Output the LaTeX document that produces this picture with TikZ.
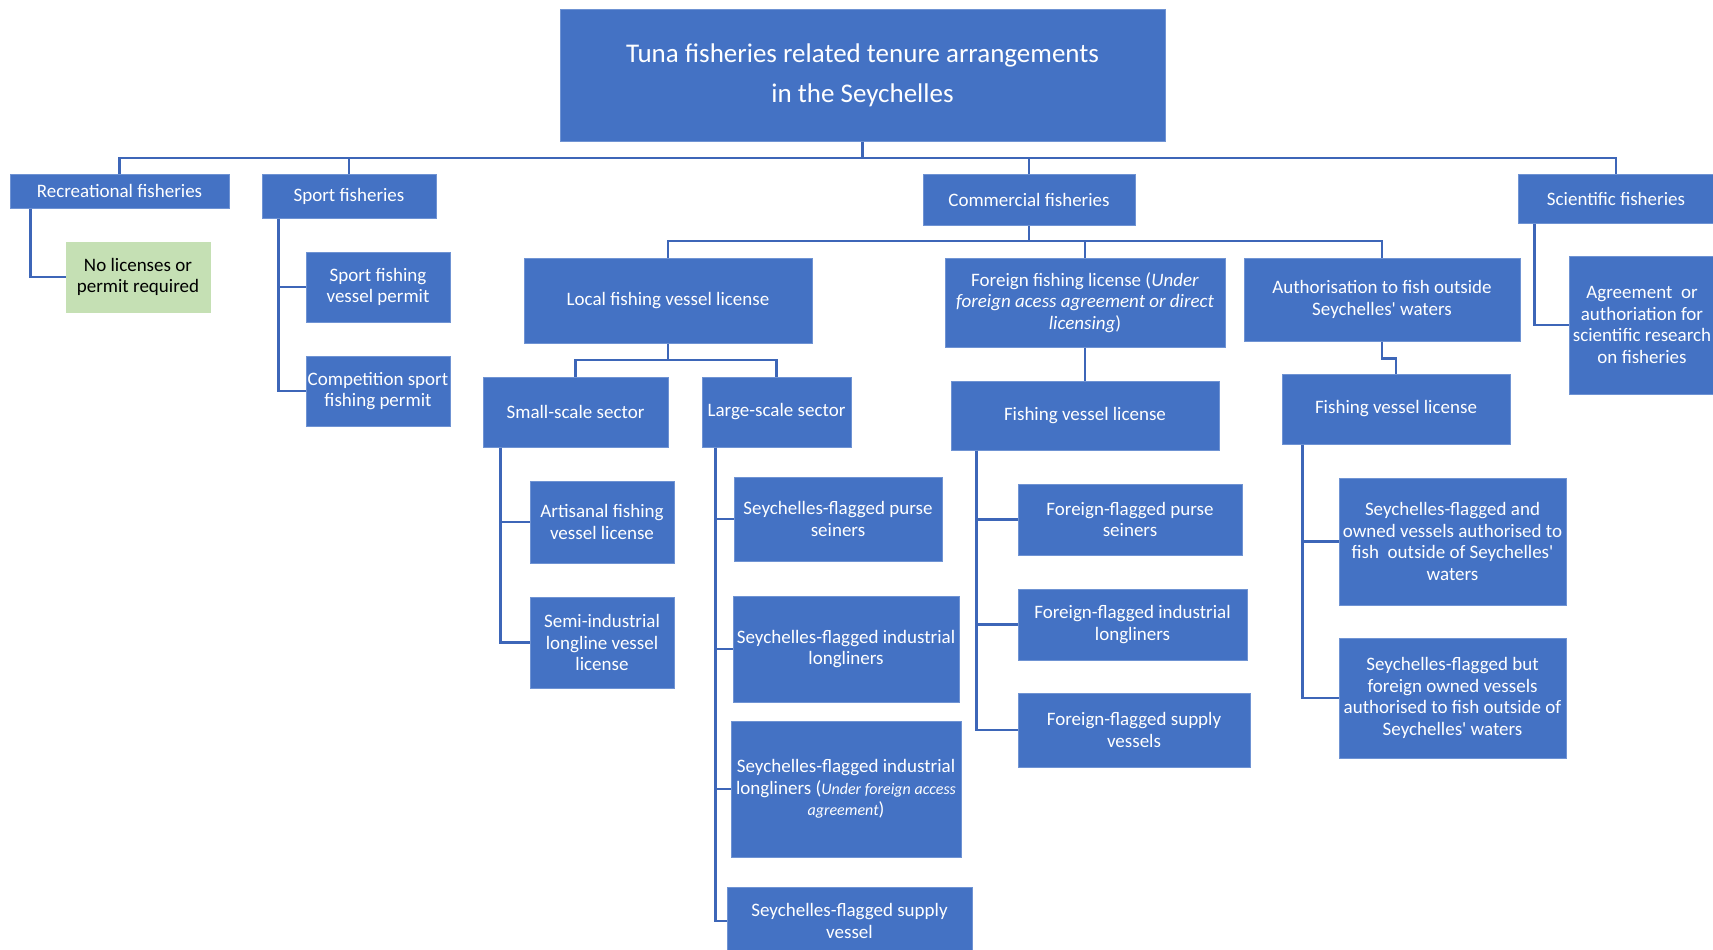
\documentclass[tikz,border=0pt]{standalone}
\usepackage{fontspec}
\setmainfont{Carlito}
\definecolor{boxblue}{HTML}{4472C4}
\definecolor{edgeblue}{HTML}{6F93D3}
\definecolor{linkblue}{HTML}{3D66B8}
\definecolor{nogreen}{HTML}{C5E0B4}
\newcommand{\smallit}[1]{{\fontsize{16}{21.5}\selectfont\itshape #1}}

\begin{document}
\begin{tikzpicture}[x=1pt, y=-1pt,
		box/.style={fill=boxblue, draw=edgeblue, line width=1pt, text=white, align=center, inner xsep=0pt, inner ysep=1pt, font=\fontsize{19}{21.5}\selectfont},
		greenbox/.style={box, fill=nogreen, draw=nogreen, text=black},
		link/.style={draw=linkblue, line width=2.5pt}]
	\useasboundingbox (0,0) rectangle (1713,950);

	% top level
	\node[box, minimum width=605pt, minimum height=131pt, font=\fontsize{27}{40}\selectfont] (title) at (862.5,75.5) {Tuna fisheries related tenure arrangements\\in the Seychelles};
	\node[box, minimum width=219pt, minimum height=34pt] (rec) at (119.5,191) {Recreational fisheries};
	\node[box, minimum width=174pt, minimum height=44pt] (sport) at (349,196) {Sport fisheries};
	\node[box, minimum width=212pt, minimum height=51pt] (comm) at (1029,199.5) {Commercial fisheries};
	\node[box, minimum width=196pt, minimum height=49pt] (sci) at (1616,198.5) {Scientific fisheries};

	% recreational, sport, scientific
	\node[greenbox, minimum width=144pt, minimum height=70pt] (nolic) at (138,277) {No licenses or\\permit required};
	\node[box, minimum width=144pt, minimum height=70pt] (sfvp) at (378,287) {Sport fishing\\vessel permit};
	\node[box, minimum width=144pt, minimum height=70pt] (csfp) at (378,391) {Competition sport\\fishing permit};
	\node[box, minimum width=146pt, minimum height=138pt] (agree) at (1642,325) {Agreement~ or\\authoriation for\\scientific research\\on fisheries};

	% commercial
	\node[box, minimum width=288pt, minimum height=85pt] (local) at (668,300.5) {Local fishing vessel license};
	\node[box, minimum width=280pt, minimum height=89pt] (foreign) at (1085,302.5) {Foreign fishing license (\textit{Under}\\\textit{foreign acess agreement or direct}\\\textit{licensing})};
	\node[box, minimum width=276pt, minimum height=83pt] (auth) at (1382,299.5) {Authorisation to fish outside\\Seychelles\textquotesingle\ waters};

	\node[box, minimum width=185pt, minimum height=70pt] (small) at (575.5,412) {Small-scale sector};
	\node[box, minimum width=149pt, minimum height=70pt] (large) at (776.5,412) {Large-scale sector};
	\node[box, minimum width=268pt, minimum height=69pt] (ffvl) at (1085,415.5) {Fishing vessel license};
	\node[box, minimum width=228pt, minimum height=70pt] (afvl) at (1396,409) {Fishing vessel license};

	\node[box, minimum width=144pt, minimum height=82pt] (art) at (602,522) {Artisanal fishing\\vessel license};
	\node[box, minimum width=144pt, minimum height=91pt] (semi) at (602,642.5) {Semi-industrial\\longline vessel\\license};

	\node[box, minimum width=208pt, minimum height=84pt] (sps) at (838,519) {Seychelles-flagged purse\\seiners};
	\node[box, minimum width=226pt, minimum height=106pt] (sil) at (846,649) {Seychelles-flagged industrial\\longliners};
	\node[box, minimum width=230pt, minimum height=136pt] (silf) at (846,789) {Seychelles-flagged industrial\\longliners (\smallit{Under foreign access}\\\smallit{agreement})};
	\node[box, minimum width=245pt, minimum height=68pt] (ssv) at (849.5,921) {Seychelles-flagged supply\\vessel};

	\node[box, minimum width=224pt, minimum height=71pt] (fps) at (1130,519.5) {Foreign-flagged purse\\seiners};
	\node[box, minimum width=229pt, minimum height=71pt] (fil) at (1132.5,624.5) {Foreign-flagged industrial\\longliners};
	\node[box, minimum width=232pt, minimum height=74pt] (fsv) at (1134,730) {Foreign-flagged supply\\vessels};

	\node[box, minimum width=227pt, minimum height=127pt] (sfo) at (1452.5,541.5) {Seychelles-flagged and\\owned vessels authorised to\\fish~ outside of Seychelles\textquotesingle\\waters};
	\node[box, minimum width=227pt, minimum height=120pt] (sfb) at (1452.5,698) {Seychelles-flagged but\\foreign owned vessels\\authorised to fish outside of\\Seychelles\textquotesingle\ waters};

	% connectors
	\coordinate (topbus) at (0,158);
	\coordinate (combus) at (0,241);
	\coordinate (locbus) at (0,360);
	\draw[link] (title.south) -- (title.south |- topbus);
	\foreach \n in {rec, sport, comm, sci}
		\draw[link] (title.south |- topbus) -| (\n.north);
	\draw[link] (comm.south) -- (comm.south |- combus);
	\foreach \n in {local, foreign, auth}
		\draw[link] (comm.south |- combus) -| (\n.north);
	\draw[link] (local.south) -- (local.south |- locbus);
	\foreach \n in {small, large}
		\draw[link] (local.south |- locbus) -| (\n.north);
	\draw[link] (foreign.south) -- (ffvl.north);
	\draw[link] (auth.south) -- ++(0,17) -| (afvl.north);

	\draw[link] ([xshift=21pt]rec.south west) |- (nolic.west);
	\draw[link] ([xshift=17pt]sci.south west) |- (agree.west);
	\foreach \n in {sfvp, csfp}
		\draw[link] ([xshift=17pt]sport.south west) |- (\n.west);
	\foreach \n in {art, semi}
		\draw[link] ([xshift=18pt]small.south west) |- (\n.west);
	\foreach \n in {sps, sil, silf, ssv}
		\draw[link] ([xshift=14pt]large.south west) |- (\n.west);
	\foreach \n in {fps, fil, fsv}
		\draw[link] ([xshift=26pt]ffvl.south west) |- (\n.west);
	\foreach \n in {sfo, sfb}
		\draw[link] ([xshift=21pt]afvl.south west) |- (\n.west);
\end{tikzpicture}
\end{document}
